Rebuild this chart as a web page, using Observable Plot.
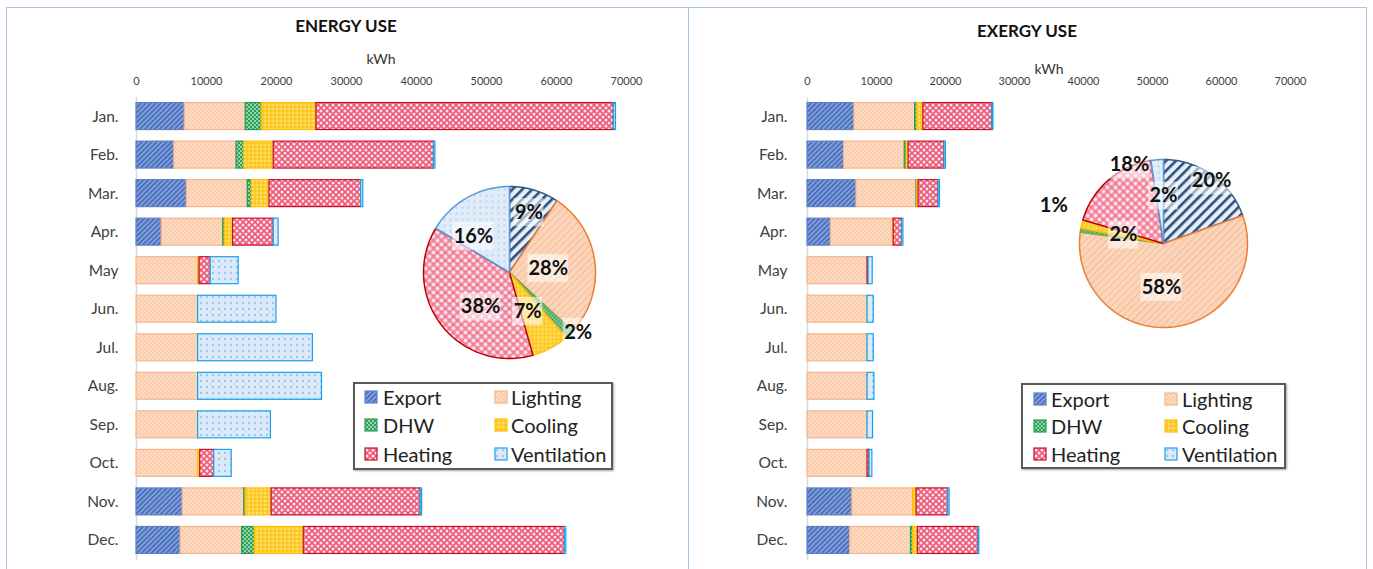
<!DOCTYPE html>
<html><head><meta charset="utf-8">
<script src="https://cdn.jsdelivr.net/npm/d3@7"></script>
<script src="https://cdn.jsdelivr.net/npm/@observablehq/plot@0.6"></script>
<style>
body{margin:0;background:#fff;width:1373px;height:569px;overflow:hidden;position:relative;font-family:Lato,"Liberation Sans",sans-serif;}
.panel{position:absolute;border:1.5px solid #a6c6e8;box-sizing:border-box;}
.abs{position:absolute;}
.title{position:absolute;font-weight:700;font-size:17px;color:#111;transform:translate(-50%,-50%);white-space:nowrap;}
.unit{position:absolute;font-size:14px;color:#333;transform:translate(-50%,-50%);white-space:nowrap;}
.legend{position:absolute;border:2px solid #595959;box-sizing:border-box;background:#fff;box-shadow:1px 1px 2px rgba(0,0,0,.35);}
.item{position:absolute;font-size:20px;color:#222;white-space:nowrap;transform:translateY(-50%);line-height:1;}
.sw{position:absolute;transform:translateY(-50%);}
</style></head><body>
<svg width="0" height="0" style="position:absolute"><defs>
<pattern id="bExport" width="3.5" height="3.5" patternUnits="userSpaceOnUse" patternTransform="rotate(45)"><rect width="3.5" height="3.5" fill="#809fdc"/><rect width="1.4" height="3.5" fill="#3e63b3"/></pattern>
<pattern id="bLighting" width="4" height="4" patternUnits="userSpaceOnUse"><rect width="4" height="4" fill="#fdd9c0"/><circle cx="1" cy="1" r="0.6" fill="#f0a676"/><circle cx="3" cy="3" r="0.6" fill="#f0a676"/></pattern>
<pattern id="bDHW" width="4" height="4" patternUnits="userSpaceOnUse"><rect width="4" height="4" fill="#95d3ac"/><rect width="2" height="2" fill="#2e9e5b"/><rect x="2" y="2" width="2" height="2" fill="#2e9e5b"/></pattern>
<pattern id="bCooling" width="4" height="4" patternUnits="userSpaceOnUse"><rect width="4" height="4" fill="#ffcd2e"/><circle cx="1" cy="1" r="0.8" fill="#fff4c8"/><circle cx="3" cy="3" r="0.6" fill="#f2b400"/></pattern>
<pattern id="bHeating" width="6" height="6" patternUnits="userSpaceOnUse"><rect width="6" height="6" fill="#ec5b7a"/><circle cx="0" cy="0" r="1.5" fill="#fde3ea"/><circle cx="6" cy="0" r="1.5" fill="#fde3ea"/><circle cx="0" cy="6" r="1.5" fill="#fde3ea"/><circle cx="6" cy="6" r="1.5" fill="#fde3ea"/><circle cx="3" cy="3" r="1.5" fill="#fde3ea"/></pattern>
<pattern id="bVent" width="6" height="6" patternUnits="userSpaceOnUse"><rect width="6" height="6" fill="#dbe9f8"/><circle cx="3" cy="3" r="1.2" fill="#9cc6ef"/></pattern>
<pattern id="pExport" width="7" height="7" patternUnits="userSpaceOnUse" patternTransform="rotate(45)"><rect width="7" height="7" fill="#e6eef8"/><rect width="2.6" height="7" fill="#2c4f7c"/></pattern>
<pattern id="pLighting" width="5" height="5" patternUnits="userSpaceOnUse" patternTransform="rotate(45)"><rect width="5" height="5" fill="#fbd5bb"/><rect width="1" height="5" fill="#f6bb93"/></pattern>
<pattern id="pHeating" width="8" height="8" patternUnits="userSpaceOnUse"><rect width="8" height="8" fill="#f07f99"/><circle cx="0" cy="0" r="2" fill="#fde6ec"/><circle cx="8" cy="0" r="2" fill="#fde6ec"/><circle cx="0" cy="8" r="2" fill="#fde6ec"/><circle cx="8" cy="8" r="2" fill="#fde6ec"/><circle cx="4" cy="4" r="2" fill="#fde6ec"/></pattern>
<pattern id="pVent" width="6" height="6" patternUnits="userSpaceOnUse"><rect width="6" height="6" fill="#e1ecf8"/><circle cx="3" cy="3" r="1.2" fill="#bcd6f0"/></pattern>
</defs></svg>

<div class="panel" style="left:6px;top:7px;width:683px;height:600px"></div>
<div class="panel" style="left:688px;top:7px;width:679px;height:600px"></div>
<div class="title" style="left:346px;top:25px">ENERGY USE</div>
<div class="title" style="left:1027px;top:30px">EXERGY USE</div>
<div class="unit" style="left:381px;top:58px">kWh</div>
<div class="unit" style="left:1049px;top:68px">kWh</div>
<div id="leftBars" class="abs" style="left:0;top:60px"></div>
<div id="rightBars" class="abs" style="left:690px;top:60px"></div>
<div id="leftPie" class="abs" style="left:369px;top:132px"></div>
<div id="rightPie" class="abs" style="left:1023px;top:103px"></div>
<div id="leftLegend" class="legend" style="left:353px;top:382px;width:260px;height:88px"></div>
<div id="rightLegend" class="legend" style="left:1021px;top:383px;width:265px;height:86px"></div>

<script>
// ---- data ----
const months = ["Jan.","Feb.","Mar.","Apr.","May","Jun.","Jul.","Aug.","Sep.","Oct.","Nov.","Dec."];
const series = ["Export","Lighting","DHW","Cooling","Heating","Ventilation"];

const energyExport      = [6900,5400,7200,3600,0,0,0,0,0,0,6600,6300];
const energyLighting    = [8700,8900,8700,8800,8800,8800,8800,8800,8800,8800,8800,8800];
const energyDHW         = [2300,1100,600,200,0,0,0,0,0,0,200,1800];
const energyCooling     = [7800,4200,2500,1200,200,0,0,0,0,300,3700,7000];
const energyHeating     = [42500,22900,13100,5800,1600,0,0,0,0,2000,21300,37300];
const energyVentilation = [300,200,300,700,4000,11200,16400,17700,10400,2500,200,200];

const exergyExport      = [6800,5300,7100,3400,0,0,0,0,0,0,6500,6200];
const exergyLighting    = [8800,8800,8700,9000,8700,8700,8700,8700,8700,8700,8800,8800];
const exergyDHW         = [300,250,100,0,0,0,0,0,0,0,0,300];
const exergyCooling     = [900,300,200,100,0,0,0,0,0,0,500,700];
const exergyHeating     = [10000,5200,2900,1200,150,0,0,0,0,300,4600,8800];
const exergyVentilation = [150,200,200,200,600,900,900,1000,800,400,200,100];

const energyShares = [9.3,27.6,1.7,7.0,38.0,16.4];
const exergyShares = [19.6,57.6,0.7,1.6,18.1,2.4];

const xTicks = [0,10000,20000,30000,40000,50000,60000,70000];

// ---- styles ----
const barFill   = {Export:"url(#bExport)",Lighting:"url(#bLighting)",DHW:"url(#bDHW)",Cooling:"url(#bCooling)",Heating:"url(#bHeating)",Ventilation:"url(#bVent)"};
const barStroke = {Export:"#5d80c8",Lighting:"#f6b68b",DHW:"#1f9e55",Cooling:"#ffc000",Heating:"#c8102e",Ventilation:"#14a3eb"};
const pieFill   = ["url(#pExport)","url(#pLighting)","url(#bDHW)","url(#bCooling)","url(#pHeating)","url(#pVent)"];
const pieStroke = ["#2e5a8a","#ed7d31","#70ad47","#ffc000","#c00000","#5b9bd5"];
// label placement: [angle (deg clockwise from top), radius px]
const energyLabelPos = [[18,63],[84,39],[131,91],[155,43],[220,45],[315,51]];
const exergyLabelPos = [[37.5,79],[182.6,44],[289,116],[282,41],[336.6,85.5],[0,47.5]];

function barChart(arrs, width, marginLeft, marginRight, tickPad) {
  const rows = [];
  months.forEach((m, i) => series.forEach((s, j) => {
    const v = arrs[j][i];
    if (v > 0) rows.push({month: m, series: s, value: v});
  }));
  return Plot.plot({
    width, height: 505, marginLeft, marginRight, marginTop: 31, marginBottom: 0,
    style: {background: "transparent", fontFamily: "Lato, sans-serif", color: "#404040", overflow: "visible"},
    x: {domain: [0, 70000]},
    y: {domain: months, padding: 0.3, round: false},
    color: {type: "identity"},
    marks: [
      Plot.ruleX([0], {stroke: "#d9d9d9", strokeWidth: 1.5, insetTop: 6, insetBottom: 5}),
      Plot.barX(rows, {x: "value", y: "month", fill: d => barFill[d.series], stroke: d => barStroke[d.series], strokeWidth: 1.2}),
      Plot.axisX({anchor: "top", ticks: xTicks, tickFormat: d => String(d), tickSize: 0, tickPadding: 7, fontSize: 11, label: null}),
      Plot.axisY({tickSize: 0, tickPadding: tickPad, fontSize: 15.5, label: null})
    ]
  });
}

function pieChart(shares, r, labelPos) {
  const total = d3.sum(shares);
  const rows = [];
  let acc = 0;
  shares.forEach((s, i) => {
    const a0 = acc / total * 2 * Math.PI; acc += s;
    const a1 = acc / total * 2 * Math.PI;
    const n = Math.max(2, Math.ceil((a1 - a0) / (Math.PI / 120)));
    rows.push({k: i, x: 0, y: 0});
    for (let j = 0; j <= n; j++) {
      const a = a0 + (a1 - a0) * j / n;
      rows.push({k: i, x: r * Math.sin(a), y: r * Math.cos(a)});
    }
  });
  const labels = shares.map((s, i) => {
    const [deg, rr] = labelPos[i];
    const a = deg * Math.PI / 180;
    const t = Math.round(s) + "%";
    return {k: i, x: rr * Math.sin(a), y: rr * Math.cos(a), text: t, w: t.length * 11 + 8};
  });
  return Plot.plot({
    width: 280, height: 280, margin: 0,
    style: {background: "transparent", fontFamily: "Lato, sans-serif", overflow: "visible"},
    x: {domain: [-140, 140], axis: null},
    y: {domain: [-140, 140], axis: null},
    color: {type: "identity"},
    marks: [
      Plot.line(rows, {x: "x", y: "y", z: "k", fill: d => pieFill[d.k], stroke: d => pieStroke[d.k], strokeWidth: 1.5, curve: "linear-closed"}),
      Plot.rect(labels, {x1: d => d.x - d.w / 2, x2: d => d.x + d.w / 2, y1: d => d.y - 14, y2: d => d.y + 14, fill: "white", fillOpacity: 0.55}),
      Plot.text(labels, {x: "x", y: "y", text: "text", fontSize: 20, fontWeight: 700, fill: "#111"})
    ]
  });
}

function legend(el, swLeft, txtLeft, col2Sw, col2Txt, rowYs) {
  series.forEach((s, i) => {
    const col = i % 2, row = Math.floor(i / 2);
    const sx = col ? col2Sw : swLeft, tx = col ? col2Txt : txtLeft, y = rowYs[row];
    const sw = document.createElementNS("http://www.w3.org/2000/svg", "svg");
    sw.setAttribute("width", 14); sw.setAttribute("height", 14);
    sw.setAttribute("class", "sw");
    sw.style.left = sx + "px"; sw.style.top = y + "px";
    sw.innerHTML = `<rect x="1" y="1" width="12" height="12" fill="${barFill[s]}" stroke="${barStroke[s]}" stroke-width="1.2"/>`;
    el.appendChild(sw);
    const t = document.createElement("div");
    t.className = "item"; t.textContent = s;
    t.style.left = tx + "px"; t.style.top = y + "px";
    el.appendChild(t);
  });
}

document.getElementById("leftBars").appendChild(barChart([energyExport,energyLighting,energyDHW,energyCooling,energyHeating,energyVentilation], 680, 136, 54, 18));
document.getElementById("rightBars").appendChild(barChart([exergyExport,exergyLighting,exergyDHW,exergyCooling,exergyHeating,exergyVentilation], 675, 117, 75, 20));
document.getElementById("leftPie").appendChild(pieChart(energyShares, 86, energyLabelPos));
document.getElementById("rightPie").appendChild(pieChart(exergyShares, 84, exergyLabelPos));
legend(document.getElementById("leftLegend"), 9, 28, 139, 156, [13, 41, 70]);
legend(document.getElementById("rightLegend"), 10, 28, 141, 159, [14, 41, 69]);
</script>
</body></html>
